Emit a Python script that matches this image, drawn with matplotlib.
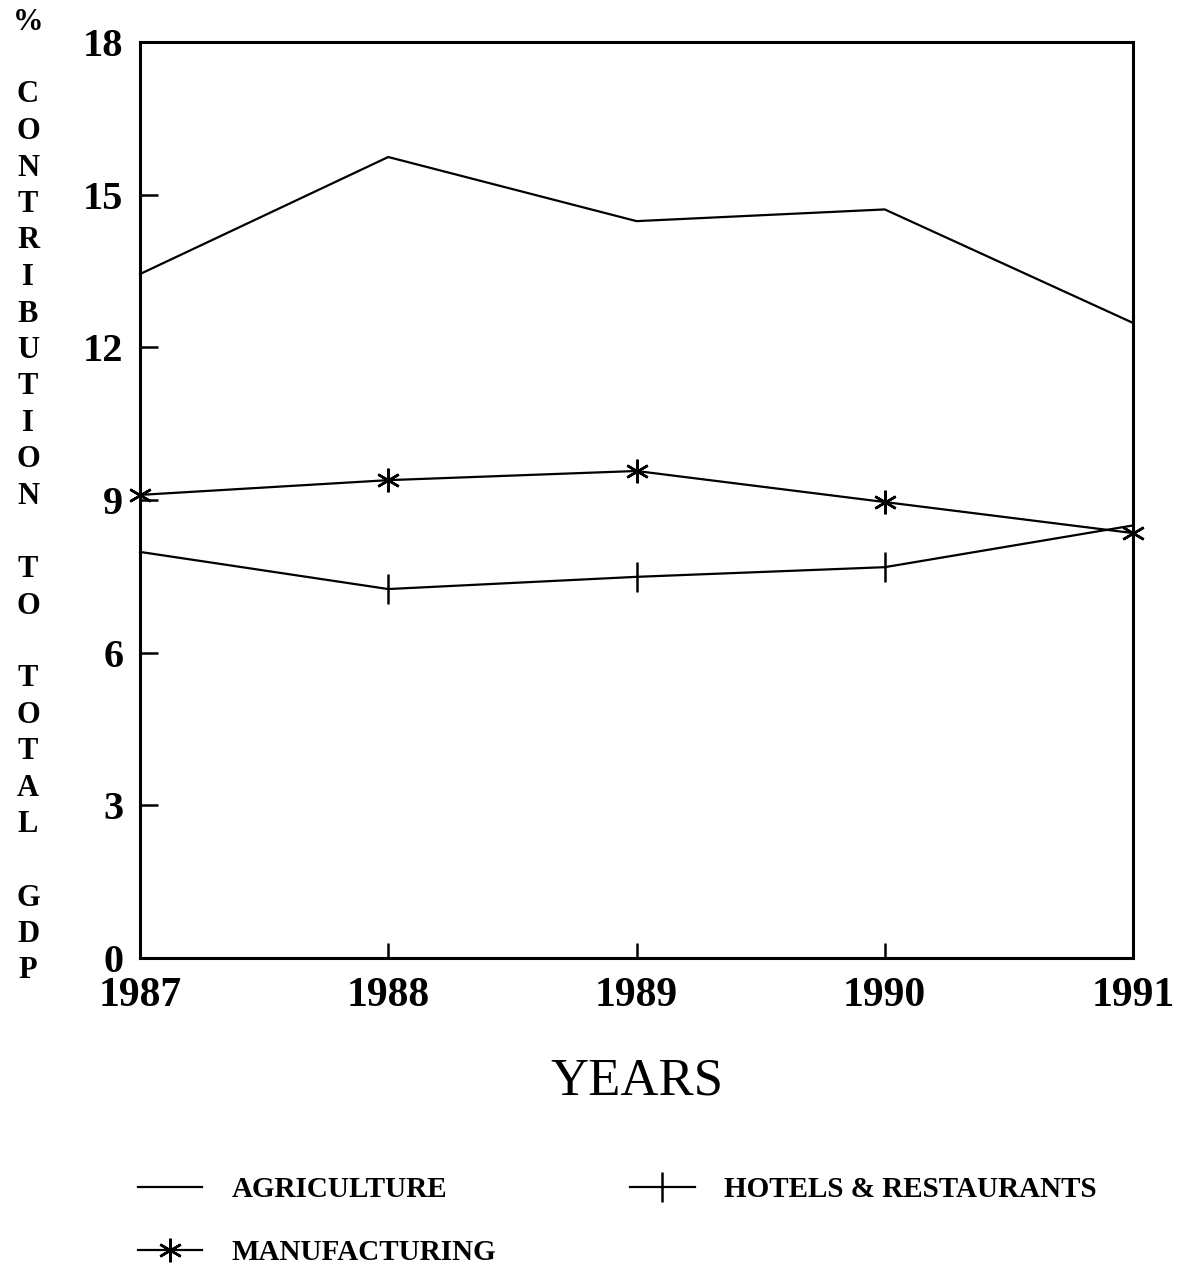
import matplotlib
matplotlib.use("Agg")
import matplotlib.pyplot as plt

# data
years = [1987, 1988, 1989, 1990, 1991]
agriculture = [13.44, 15.74, 14.48, 14.71, 12.48]
manufacturing = [9.10, 9.39, 9.57, 8.96, 8.35]
hotels = [7.98, 7.25, 7.49, 7.68, 8.50]
y_ticks = [0, 3, 6, 9, 12, 15, 18]
ylabel_lines = ["%", "", "C", "O", "N", "T", "R", "I", "B", "U", "T", "I", "O", "N", "",
                "T", "O", "", "T", "O", "T", "A", "L", "", "G", "D", "P"]

W, H = 1190, 1264
fig = plt.figure(figsize=(W / 100, H / 100), dpi=100)
ax = fig.add_axes([140 / W, 1 - 958 / H, (1133 - 140) / W, (958 - 42) / H])

serif = "Liberation Serif"

ax.plot(years, agriculture, color="black", lw=1.6, label="AGRICULTURE", clip_on=False)
ax.plot(years, manufacturing, color="black", lw=1.6, marker=(6, 2, 0), ms=17, mew=1.8,
        label="MANUFACTURING", clip_on=False)
ax.plot(years, hotels, color="black", lw=1.6, marker="|", ms=22, mew=1.8,
        label="HOTELS & RESTAURANTS", clip_on=False)

ax.set_xlim(1987, 1991)
ax.set_ylim(0, 18)
ax.set_xticks(years)
ax.set_yticks(y_ticks)
ax.set_xticklabels([str(y) for y in years], family=serif, weight="bold", fontsize=30)
ax.set_yticklabels([str(v) for v in y_ticks], family=serif, weight="bold", fontsize=29)
ax.tick_params(axis="x", direction="in", length=11, width=1.8, pad=14)
ax.tick_params(axis="y", direction="in", length=13, width=1.8, pad=12)
for s in ax.spines.values():
    s.set_linewidth(2.2)

ax.set_xlabel("YEARS", family=serif, fontsize=38, labelpad=30)

# stacked vertical y label, one letter per line
for i, ch in enumerate(ylabel_lines):
    if ch:
        fig.text(28 / W, 1 - (22 + i * 36.5) / H, ch, family=serif, weight="bold",
                 fontsize=22, ha="center", va="center")

fig.legend(loc="upper left", bbox_to_anchor=(112 / W, 1 - 1150 / H), ncol=2,
           frameon=False, prop={"family": serif, "weight": "bold", "size": 21},
           handlelength=2.2, handletextpad=1.0, labelspacing=1.22, columnspacing=4.6)

fig.savefig("out.png", dpi=100)
